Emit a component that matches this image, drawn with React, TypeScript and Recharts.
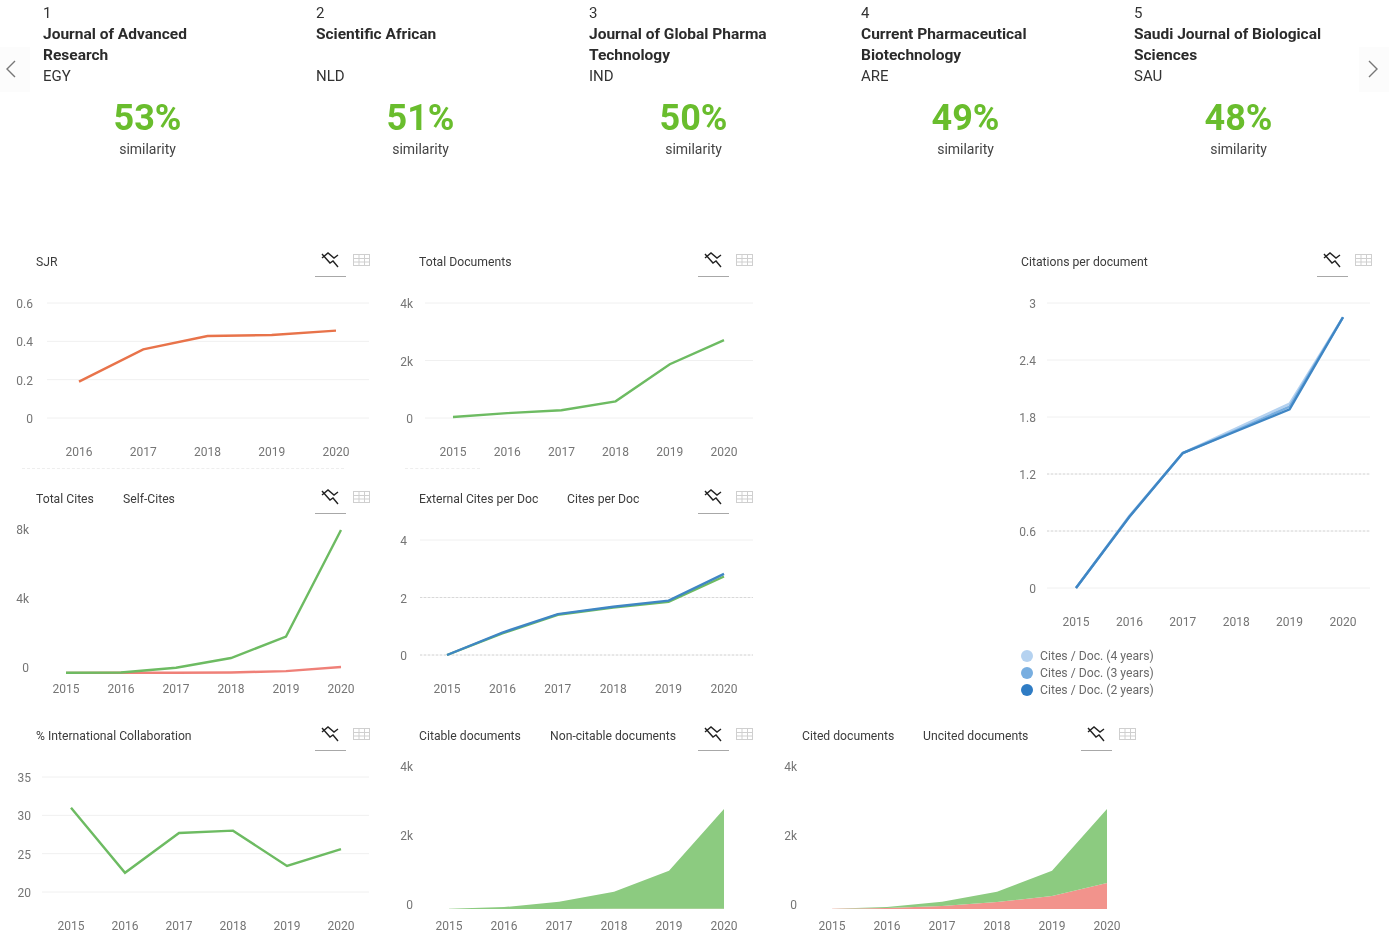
import React from "react";
import { ComposedChart, Line, Area, XAxis, YAxis, CartesianGrid, ReferenceLine } from "recharts";

const years = ["2015", "2016", "2017", "2018", "2019", "2020"];
const sjrYears = ["2016", "2017", "2018", "2019", "2020"];

const sjr = [0.19, 0.358, 0.428, 0.433, 0.456];
const totalDocs = [35, 170, 270, 580, 1870, 2710];
const totalCites = [15, 25, 280, 800, 1940, 7630];
const selfCites = [5, 10, 15, 30, 100, 320];
const externalPerDoc = [0, 0.75, 1.4, 1.65, 1.85, 2.73];
const citesPerDoc = [0, 0.78, 1.42, 1.68, 1.89, 2.82];
const cites4 = [0, 0.76, 1.42, 1.68, 1.94, 2.85];
const cites3 = [0, 0.75, 1.42, 1.66, 1.91, 2.85];
const cites2 = [0, 0.75, 1.42, 1.65, 1.88, 2.85];
const intlCollab = [31, 22.5, 27.7, 28, 23.4, 25.6];
const citable = [10, 50, 190, 460, 1030, 2690];
const nonCitable = [0, 1, 3, 5, 6, 10];
const cited = [5, 30, 115, 275, 685, 1995];
const uncited = [5, 25, 80, 190, 350, 705];

const journals = [
  { rank: "1", lines: ["Journal of Advanced", "Research"], country: "EGY", pct: "53%" },
  { rank: "2", lines: ["Scientific African"], country: "NLD", pct: "51%" },
  { rank: "3", lines: ["Journal of Global Pharma", "Technology"], country: "IND", pct: "50%" },
  { rank: "4", lines: ["Current Pharmaceutical", "Biotechnology"], country: "ARE", pct: "49%" },
  { rank: "5", lines: ["Saudi Journal of Biological", "Sciences"], country: "SAU", pct: "48%" },
];
const cardLefts = [43, 316, 589, 861, 1134];

const GREEN_LINE = "#6dbb62";
const GREEN_FILL = "#8ccb80";
const RED_LINE = "#ef8078";
const RED_FILL = "#f2938c";
const ORANGE = "#e8734a";
const BLUE2 = "#3f86c4";
const BLUE3 = "#78aee0";
const BLUE4 = "#b5d2f0";
const FONT = "Roboto, sans-serif";

function table(cats: string[], cols: Record<string, number[]>) {
  return cats.map((c, i) => {
    const row: Record<string, string | number> = { year: c };
    Object.keys(cols).forEach((k) => (row[k] = cols[k][i]));
    return row;
  });
}

const fmt = (v: number) => (v >= 1000 ? `${v / 1000}k` : `${v}`);

type S = { key: string; color: string; area?: boolean };
type P = {
  data: Record<string, string | number>[];
  series: S[];
  ticks: number[];
  xLeft: number;
  xRight: number;
  yTop: number;
  yBottom: number;
  first: number;
  last: number;
  labelRight: number;
  labelY: number;
  grid?: boolean;
  inset?: number;
  dotted?: number[];
};

function Chart(p: P) {
  const LEFT = 45;
  const TOP = 12;
  const RIGHT = 6;
  const BOTTOM = p.labelY - p.yBottom + 12;
  const w = p.xRight - p.xLeft + LEFT + RIGHT;
  const h = p.yBottom - p.yTop + TOP + BOTTOM;
  const lo = p.ticks[0];
  const hi = p.ticks[p.ticks.length - 1];
  const inset = p.inset || 0;
  const YTick = (t: any) => {
    const v = t.payload.value;
    const shift = v === hi ? inset : v === lo ? -inset : 0;
    return (
      <text x={t.x} y={t.y + shift} dy={5} textAnchor="end" fontSize={12} fontFamily={FONT} fill="#757575">
        {fmt(v)}
      </text>
    );
  };
  return (
    <div style={{ position: "absolute", left: p.xLeft - LEFT, top: p.yTop - TOP }}>
      <ComposedChart width={w} height={h} data={p.data} margin={{ top: TOP, right: RIGHT, bottom: 0, left: 0 }}>
        {p.grid ? <CartesianGrid vertical={false} stroke="#f0f0f0" /> : null}
        <XAxis
          dataKey="year"
          height={BOTTOM}
          interval={0}
          axisLine={false}
          tickLine={false}
          tickSize={0}
          tickMargin={p.labelY - p.yBottom - 5}
          padding={{ left: p.first - p.xLeft, right: p.xRight - p.last }}
          tick={{ fontSize: 12, fontFamily: FONT, fill: "#757575" }}
        />
        <YAxis
          width={LEFT}
          domain={[lo, hi]}
          ticks={p.ticks}
          interval={0}
          axisLine={false}
          tickLine={false}
          tickSize={0}
          tickMargin={p.xLeft - p.labelRight}
          tick={YTick}
        />
        {(p.dotted || []).map((v) => (
          <ReferenceLine key={v} y={v} stroke="#d8d8d8" strokeDasharray="2 2" />
        ))}
        {p.series.map((s) =>
          s.area ? (
            <Area
              key={s.key}
              dataKey={s.key}
              type="linear"
              stackId="a"
              stroke="none"
              fill={s.color}
              fillOpacity={1}
              dot={false}
              activeDot={false}
              isAnimationActive={false}
            />
          ) : (
            <Line
              key={s.key}
              dataKey={s.key}
              type="linear"
              stroke={s.color}
              strokeWidth={2.4}
              dot={false}
              activeDot={false}
              isAnimationActive={false}
            />
          )
        )}
      </ComposedChart>
    </div>
  );
}

function Label({ x, y, children, style }: { x: number; y: number; children: React.ReactNode; style?: React.CSSProperties }) {
  return (
    <div
      style={{
        position: "absolute",
        left: x,
        top: y - 9,
        height: 20,
        lineHeight: "20px",
        whiteSpace: "nowrap",
        fontFamily: FONT,
        fontSize: 12.2,
        color: "#3c3c3c",
        ...style,
      }}
    >
      {children}
    </div>
  );
}

function Icons({ x, y }: { x: number; y: number }) {
  return (
    <svg style={{ position: "absolute", left: x, top: y - 2 }} width={58} height={28}>
      <path d="M7 6 L13 1 L19 6 L23 3" fill="none" stroke="#222" strokeWidth={1.4} />
      <path d="M7 2 L15 11 L18 9 L23 15" fill="none" stroke="#222" strokeWidth={1.4} />
      <line x1={0} x2={31} y1={24.5} y2={24.5} stroke="#a8a8a8" strokeWidth={1} />
      <g stroke="#cfcfcf" strokeWidth={1} fill="none">
        <rect x={38.5} y={2.5} width={16} height={11} />
        <line x1={38} x2={55} y1={6.5} y2={6.5} />
        <line x1={38} x2={55} y1={10} y2={10} />
        <line x1={44} x2={44} y1={2} y2={14} />
        <line x1={49.5} x2={49.5} y1={2} y2={14} />
      </g>
    </svg>
  );
}

function Card({ j, left }: { j: (typeof journals)[number]; left: number }) {
  const line = (y: number, text: string, bold: boolean) => (
    <Label x={left} y={y} style={{ fontSize: bold ? 15.5 : 15, fontWeight: bold ? 700 : 400, color: bold ? "#2b2b2b" : "#333" }}>
      {text}
    </Label>
  );
  const cx = left + 104.5;
  return (
    <>
      {line(12, j.rank, false)}
      {line(33, j.lines[0], true)}
      {j.lines[1] ? line(54, j.lines[1], true) : null}
      {line(75, j.country, false)}
      <div
        style={{
          position: "absolute",
          left: cx - 60,
          width: 120,
          top: 96,
          height: 44,
          lineHeight: "44px",
          textAlign: "center",
          fontFamily: FONT,
          fontWeight: 700,
          fontSize: 36,
          color: "#69bd2d",
        }}
      >
        {j.pct}
      </div>
      <div
        style={{
          position: "absolute",
          left: cx - 60,
          width: 120,
          top: 139,
          height: 20,
          lineHeight: "20px",
          textAlign: "center",
          fontFamily: FONT,
          fontSize: 14,
          color: "#444",
        }}
      >
        similarity
      </div>
    </>
  );
}

export default function App() {
  return (
    <div
      style={{
        position: "absolute",
        left: 0,
        top: 0,
        width: 1389,
        height: 938,
        background: "#fff",
        overflow: "hidden",
        filter: "blur(0.4px)",
      }}
    >
      {journals.map((j, i) => (
        <Card key={j.rank} j={j} left={cardLefts[i]} />
      ))}
      <div style={{ position: "absolute", left: 0, top: 47, width: 30, height: 45, background: "#fcfcfc" }} />
      <div style={{ position: "absolute", left: 1359, top: 47, width: 30, height: 45, background: "#fcfcfc" }} />
      <svg style={{ position: "absolute", left: 0, top: 55 }} width={24} height={28}>
        <path d="M15 6 L7 14 L15 22" fill="none" stroke="#777" strokeWidth={1.4} />
      </svg>
      <svg style={{ position: "absolute", left: 1362, top: 55 }} width={24} height={28}>
        <path d="M7 6 L15 14 L7 22" fill="none" stroke="#777" strokeWidth={1.4} />
      </svg>

      <Label x={36} y={261}>SJR</Label>
      <Icons x={315} y={254} />
      <Chart
        data={table(sjrYears, { sjr })}
        series={[{ key: "sjr", color: ORANGE }]}
        ticks={[0, 0.2, 0.4, 0.6]}
        xLeft={47} xRight={369} yTop={303} yBottom={418}
        first={79} last={336} labelRight={33} labelY={452} grid
      />

      <Label x={419} y={261}>Total Documents</Label>
      <Icons x={698} y={254} />
      <Chart
        data={table(years, { totalDocs })}
        series={[{ key: "totalDocs", color: GREEN_LINE }]}
        ticks={[0, 2000, 4000]}
        xLeft={425} xRight={753} yTop={303} yBottom={418}
        first={453} last={724} labelRight={413} labelY={452} grid
      />

      <Label x={1021} y={261}>Citations per document</Label>
      <Icons x={1317} y={254} />
      <Chart
        data={table(years, { cites4, cites3, cites2 })}
        series={[
          { key: "cites4", color: BLUE4 },
          { key: "cites3", color: BLUE3 },
          { key: "cites2", color: BLUE2 },
        ]}
        ticks={[0, 0.6, 1.2, 1.8, 2.4, 3]}
        xLeft={1047} xRight={1370} yTop={303} yBottom={588}
        first={1076} last={1343} labelRight={1036} labelY={622} grid dotted={[0.6, 1.2]}
      />
      {[
        { label: "Cites / Doc. (4 years)", color: BLUE4, y: 656 },
        { label: "Cites / Doc. (3 years)", color: BLUE3, y: 673 },
        { label: "Cites / Doc. (2 years)", color: "#2f7cc4", y: 690 },
      ].map((l) => (
        <React.Fragment key={l.label}>
          <div
            style={{
              position: "absolute",
              left: 1021,
              top: l.y - 6,
              width: 12,
              height: 12,
              borderRadius: 6,
              background: l.color,
            }}
          />
          <Label x={1040} y={l.y - 1} style={{ color: "#6a6a6a" }}>{l.label}</Label>
        </React.Fragment>
      ))}

      <Label x={36} y={498}>Total Cites</Label>
      <Label x={123} y={498}>Self-Cites</Label>
      <Icons x={315} y={491} />
      <Chart
        data={table(years, { selfCites, totalCites })}
        series={[
          { key: "selfCites", color: RED_LINE },
          { key: "totalCites", color: GREEN_LINE },
        ]}
        ticks={[0, 4000, 8000]}
        xLeft={45} xRight={370} yTop={523} yBottom={673}
        first={66} last={341} labelRight={29} labelY={689} inset={6}
      />

      <Label x={419} y={498}>External Cites per Doc</Label>
      <Label x={567} y={498}>Cites per Doc</Label>
      <Icons x={698} y={491} />
      <Chart
        data={table(years, { externalPerDoc, citesPerDoc })}
        series={[
          { key: "externalPerDoc", color: GREEN_LINE },
          { key: "citesPerDoc", color: BLUE2 },
        ]}
        ticks={[0, 2, 4]}
        xLeft={420} xRight={753} yTop={540} yBottom={655}
        first={447} last={724} labelRight={407} labelY={689} grid dotted={[0, 2]}
      />

      <Label x={36} y={735}>% International Collaboration</Label>
      <Icons x={315} y={728} />
      <Chart
        data={table(years, { intlCollab })}
        series={[{ key: "intlCollab", color: GREEN_LINE }]}
        ticks={[20, 25, 30, 35]}
        xLeft={42} xRight={369} yTop={777} yBottom={892}
        first={71} last={341} labelRight={31} labelY={926} grid
      />

      <Label x={419} y={735}>Citable documents</Label>
      <Label x={550} y={735}>Non-citable documents</Label>
      <Icons x={698} y={728} />
      <Chart
        data={table(years, { nonCitable, citable })}
        series={[
          { key: "nonCitable", color: "#e8a080", area: true },
          { key: "citable", color: GREEN_FILL, area: true },
        ]}
        ticks={[0, 2000, 4000]}
        xLeft={425} xRight={753} yTop={761} yBottom={909}
        first={449} last={724} labelRight={413} labelY={926} inset={5}
      />

      <Label x={802} y={735}>Cited documents</Label>
      <Label x={923} y={735}>Uncited documents</Label>
      <Icons x={1081} y={728} />
      <Chart
        data={table(years, { uncited, cited })}
        series={[
          { key: "uncited", color: RED_FILL, area: true },
          { key: "cited", color: GREEN_FILL, area: true },
        ]}
        ticks={[0, 2000, 4000]}
        xLeft={808} xRight={1136} yTop={761} yBottom={909}
        first={832} last={1107} labelRight={797} labelY={926} inset={5}
      />

      <div style={{ position: "absolute", left: 22, top: 468, width: 322, borderTop: "1px dashed #eeeeee" }} />
      <div style={{ position: "absolute", left: 405, top: 468, width: 75, borderTop: "1px dashed #eeeeee" }} />
    </div>
  );
}
